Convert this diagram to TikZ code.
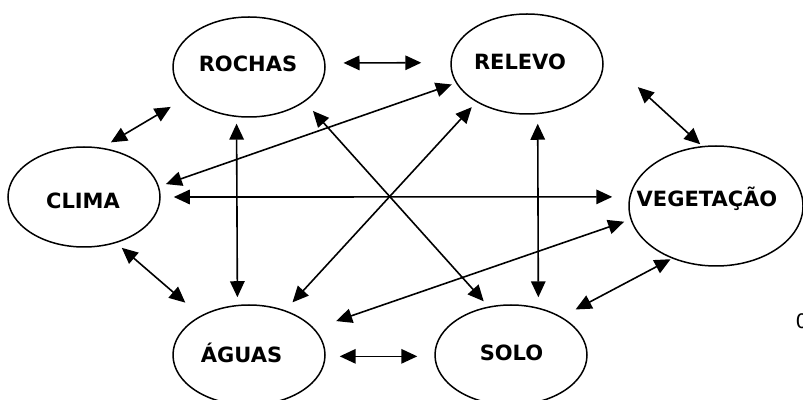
\documentclass[tikz,border=0pt]{standalone}
\usepackage{fontspec}
\setmainfont{DejaVu Sans}
\usetikzlibrary{arrows.meta,shapes.geometric}

\begin{document}
\begin{tikzpicture}[x=1pt, y=1pt,
	elli/.style={draw, ellipse, line width=1.5pt, inner sep=0pt, minimum width=152pt, minimum height=100pt},
	lab/.style={font=\bfseries\fontsize{21}{25}\selectfont, inner sep=0pt, text height=15.3pt, text depth=0pt},
	arr/.style={line width=1.6pt, {Triangle[length=16pt,width=14.5pt]}-{Triangle[length=16pt,width=14.5pt]}}]
	\useasboundingbox (0,0) rectangle (803,399);

		% ellipses
		\node[elli, label={[lab, name=rochas-t, xshift=-1pt, yshift=3pt]center:ROCHAS}] (rochas) at (249,332) {};
		\node[elli, label={[lab, name=relevo-t, xshift=-7pt, yshift=2.5pt]center:RELEVO}] (relevo) at (527,335) {};
		\node[elli, label={[lab, name=clima-t, xshift=-1pt, yshift=-4pt]center:CLIMA}] (clima) at (84,202) {};
		\node[elli, minimum width=174pt, minimum height=120pt, label={[lab, name=vege-t, xshift=-9pt, yshift=7pt]center:VEGETAÇÃO}] (vege) at (716,193) {};
		\node[elli, label={[lab, name=aguas-t, xshift=-7.5pt]center:ÁGUAS}] (aguas) at (249,44) {};
		\node[elli, label={[lab, name=solo-t, xshift=0.5pt, yshift=2.5pt]center:SOLO}] (solo) at (511,44) {};

		\node[font=\fontsize{20}{24}\selectfont, anchor=west, inner sep=0pt] (zero) at (795.5,78) {0};

		% arrows
		\draw[arr, shorten <=18pt, shorten >=29pt] (rochas.3) -- (relevo.179);
		\draw[arr, shorten <=10.4pt, shorten >=19.2pt] (clima.70.8) -- (rochas.206.7);
		\draw[arr, shorten <=7.2pt, shorten >=4.3pt] (clima.8.2) -- (relevo.195.7);
		\draw[arr, shorten <=13pt, shorten >=17pt] (clima.0) -- (vege.174);
		\draw[arr, shorten <=6.6pt, shorten >=7.6pt] (rochas.256.3) -- (aguas.103.7);
		\draw[arr, shorten <=12.2pt, shorten >=7pt] (rochas.328.8) -- (solo.115);
		\draw[arr, shorten <=6.8pt, shorten >=10.7pt] (relevo.217.6) -- (aguas.51);
		\draw[arr, shorten <=9.5pt, shorten >=10.3pt] (relevo.282.5) -- (solo.60);
		\draw[arr, shorten <=48pt, shorten >=2.6pt] (relevo.7.3) -- (vege.103.4);
		\draw[arr, shorten <=6.7pt, shorten >=22.9pt] (vege.189.3) -- (aguas.22.5);
		\draw[arr, shorten <=1.5pt, shorten >=15.8pt] (vege.230.8) -- (solo.37);
		\draw[arr, shorten <=7.3pt, shorten >=20pt] (clima.305.7) -- (aguas.141);
		\draw[arr, shorten <=14pt, shorten >=17pt] (aguas.-1) -- (solo.181);
\end{tikzpicture}
\end{document}
